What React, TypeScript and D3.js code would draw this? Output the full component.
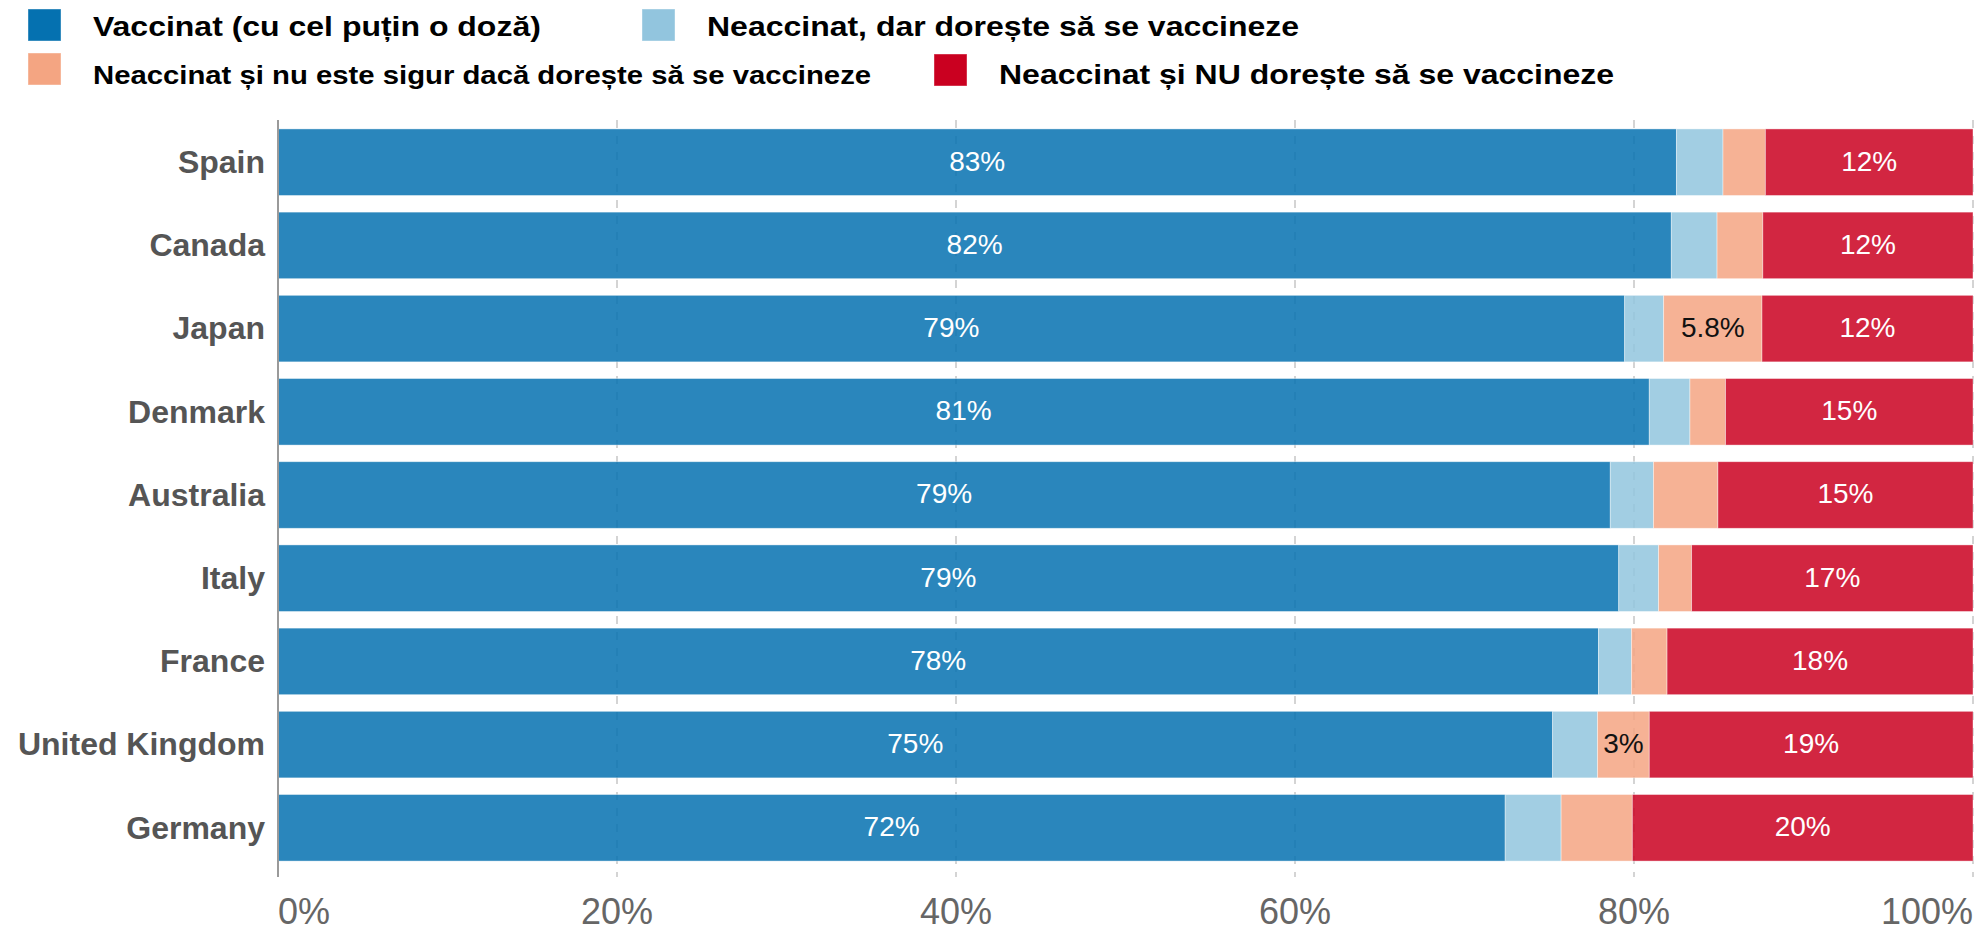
import React from 'react';
import * as d3 from 'd3';

// Countries, top to bottom
const countries = ["Spain", "Canada", "Japan", "Denmark", "Australia", "Italy", "France", "United Kingdom", "Germany"];

// Shares (%) per answer
const vaccinated = [82.5, 82.2, 79.45, 80.9, 78.6, 79.1, 77.9, 75.2, 72.4];
const wantVaccine = [2.75, 2.7, 2.3, 2.4, 2.55, 2.35, 1.95, 2.65, 3.3];
const unsure = [2.5, 2.7, 5.8, 2.1, 3.8, 1.95, 2.1, 3.05, 4.2];
const refuse = [12.25, 12.4, 12.45, 14.6, 15.05, 16.6, 18.05, 19.1, 20.1];

// only two of the "unsure" segments carry a label
const unsureLabels = [null, null, "5.8%", null, null, null, null, "3%", null];

const seriesKeys = ["vaccinated", "wantVaccine", "unsure", "refuse"];
const seriesNames = [
  "Vaccinat (cu cel puțin o doză)",
  "Neaccinat, dar dorește să se vaccineze",
  "Neaccinat și nu este sigur dacă dorește să se vaccineze",
  "Neaccinat și NU dorește să se vaccineze",
];
const seriesColors = ["#0571b0", "#92c5de", "#f4a582", "#ca0020"];

const xTicks = [0, 20, 40, 60, 80, 100];

const FONT = '"Liberation Sans", Arial, Helvetica, sans-serif';

const W = 1980;
const H = 931;
const margin = { top: 120, right: 7, bottom: 62, left: 278 };

// legend placement (two rows, as in the picture)
const legendPos = [
  { x: 28, y: 9, size: 32, textY: 36 },
  { x: 642, y: 9, size: 32, textY: 36 },
  { x: 28, y: 53, size: 29.3, textY: 84 },
  { x: 934, y: 54, size: 32, textY: 84 },
];

export default function App() {
  const rows = countries.map((c, i) => ({
    country: c,
    vaccinated: vaccinated[i],
    wantVaccine: wantVaccine[i],
    unsure: unsure[i],
    refuse: refuse[i],
  }));

  const stacked = d3.stack<any>().keys(seriesKeys)(rows);

  const x = d3.scaleLinear().domain([0, 100]).range([margin.left, W - margin.right]);
  const y = d3.scaleBand()
    .domain(countries)
    .range([120.6, 869.4])
    .paddingInner(0.2)
    .paddingOuter(0.1);

  const bw = y.bandwidth();
  const gridTop = margin.top;
  const gridBottom = H - margin.bottom + 8;

  const labelFor = (key: string, i: number, v: number) => {
    if (key === "vaccinated" || key === "refuse") return `${Math.round(v)}%`;
    if (key === "unsure") return unsureLabels[i];
    return null;
  };

  return (
    <svg width={W} height={H} style={{ position: 'absolute', left: 0, top: 0, background: '#fff' }} fontFamily={FONT}>
      {/* legend */}
      <g>
        {seriesNames.map((name, i) => (
          <g key={name}>
            <rect x={legendPos[i].x} y={legendPos[i].y} width={33} height={32}
              fill={seriesColors[i]} stroke="#fff" strokeOpacity={0.4} strokeWidth={1} />
            <text
              transform={`translate(${legendPos[i].x + 65},${legendPos[i].textY}) scale(1,0.86)`}
              fontSize={legendPos[i].size} fontWeight="bold" fill="#000">
              {name}
            </text>
          </g>
        ))}
      </g>

      {/* grid */}
      <g>
        {xTicks.filter(t => t > 0).map(t => (
          <line key={t} x1={x(t)} x2={x(t)} y1={gridTop} y2={gridBottom}
            stroke="#d4d4d4" strokeWidth={2} strokeDasharray="8,8" />
        ))}
      </g>

      {/* bars */}
      {stacked.map((layer, si) => (
        <g key={layer.key} fill={seriesColors[si]} fillOpacity={0.85}>
          {layer.map((d, i) => (
            <rect key={countries[i]}
              x={x(d[0])} y={y(countries[i])!}
              width={x(d[1]) - x(d[0])} height={bw}
              stroke="#fff" strokeOpacity={0.5} strokeWidth={0.8} />
          ))}
        </g>
      ))}

      {/* segment labels */}
      {stacked.map((layer, si) => (
        <g key={layer.key + "-lab"} fontSize={28} textAnchor="middle"
          fill={layer.key === "unsure" ? "#111" : "#fff"}>
          {layer.map((d, i) => {
            const lab = labelFor(layer.key, i, d[1] - d[0]);
            if (!lab) return null;
            return (
              <text key={countries[i]} x={(x(d[0]) + x(d[1])) / 2}
                y={y(countries[i])! + bw / 2} dy="0.3em">{lab}</text>
            );
          })}
        </g>
      ))}

      {/* y axis */}
      <line x1={x(0)} x2={x(0)} y1={gridTop} y2={gridBottom} stroke="#9a9a9a" strokeWidth={2} />
      <g fontSize={32} fontWeight="bold" fill="#555" textAnchor="end">
        {countries.map(c => (
          <text key={c} x={x(0) - 13} y={y(c)! + bw / 2} dy="0.34em">{c}</text>
        ))}
      </g>

      {/* x axis tick labels */}
      <g fontSize={36} fill="#666">
        {xTicks.map((t, i) => (
          <text key={t} x={x(t)} y={924}
            textAnchor={i === 0 ? "start" : i === xTicks.length - 1 ? "end" : "middle"}>
            {`${t}%`}
          </text>
        ))}
      </g>
    </svg>
  );
}
